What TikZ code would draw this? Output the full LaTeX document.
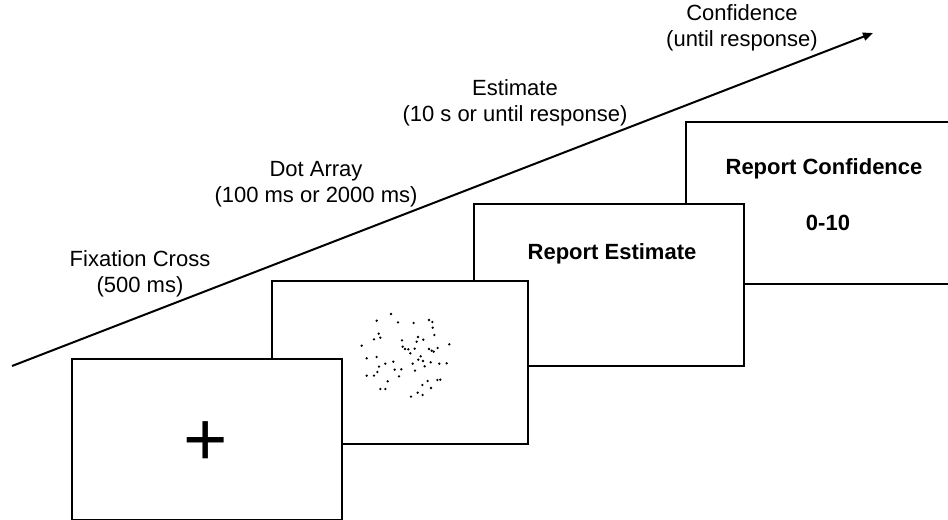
\documentclass[tikz,border=0pt]{standalone}
\usepackage{fontspec}
\setmainfont{Liberation Sans}
\usepackage{tikz}
\usetikzlibrary{arrows.meta,positioning}

\begin{document}
\begin{tikzpicture}[
  x=0.75pt, y=-0.75pt,
  screen/.style  ={draw=black, line width=1.5pt, fill=white, anchor=north west, inner sep=0pt, minimum width=202.5pt, minimum height=121.5pt},
  phase/.style   ={align=center, font=\fontsize{16.5}{19.5}\selectfont, inner sep=0pt},
  prompt/.style  ={font=\fontsize{16.5}{19.5}\selectfont\bfseries, inner sep=0pt},
  timeline/.style={-{Triangle[length=7.5pt,width=6pt]}, line width=1.5pt, black},
  dot/.style     ={fill=black, circle, inner sep=0pt, minimum size=1.9pt},
]
  \useasboundingbox (0,0) rectangle (948,520);

  % screens, back to front
  \node[screen, minimum width=206.25pt]                         (conf) at (685,121)  {};
  \node[screen]                                                 (est)  at (473,203)  {};
  \node[screen, minimum width=192pt, minimum height=122.25pt]   (dots) at (271,280)  {};
  \node[screen, minimum height=120.75pt]                        (fix)  at (70.7,358) {};

  % screen contents
  \node[anchor=base, inner sep=0pt, font=\fontsize{57}{60}\selectfont] (cross) at (205.3,465.8) {+};
  \foreach \dx/\dy in {391/314, 376.7/320.7, 398/322.3, 413.7/323, 429/320, 432.3/322,
      432.7/327.7, 378.7/333.7, 434.3/335, 374/339.3, 380.3/337.7, 418/337, 402/340.3,
      423.3/339.7, 416.7/341.7, 449.3/344.3, 361.7/345.7, 402.7/346.7, 405/349, 408.3/349.3,
      414.7/348.7, 429/349, 431.7/350.7, 433.7/351.7, 437.7/348, 410.3/353.3, 420.7/356.3,
      366.7/358.3, 376.7/357, 418.3/359.7, 423/361, 430.7/362.3, 393.3/361.7, 385.3/363.7,
      412.7/363.7, 439.3/363.7, 446.7/363.3, 379/366.7, 424.7/366.3, 394.7/369.7, 401.3/369.3,
      415/370.7, 377.3/372, 366.7/375.7, 374/375.7, 399/376.3, 387.7/381.3, 427.7/381,
      437.3/380, 440.3/379.7, 422.3/385, 431/388, 380.3/389, 385.3/389, 417.7/392.7,
      422.7/395, 411/396.7}
    \node[dot] at (\dx,\dy) {};
  \node[prompt] (estlbl)  at (612,254) {Report Estimate};
  \node[prompt] (conflbl) at (824,169) {Report Confidence};
  \node[prompt] (scale)   at (828,223) {0-10};

  % time line with phase labels
  \coordinate (tstart) at (12,366);
  \coordinate (tend)   at (873,33);
  \draw[timeline] (tstart) -- (tend);

  \node[phase] (pfix)  at (140,274)  {Fixation Cross\\(500 ms)};
  \node[phase] (pdots) at (316,184)  {Dot Array\\(100 ms or 2000 ms)};
  \node[phase] (pest)  at (515,103)  {Estimate\\(10 s or until response)};
  \node[phase] (pconf) at (742,28)   {Confidence\\(until response)};
\end{tikzpicture}
\end{document}
